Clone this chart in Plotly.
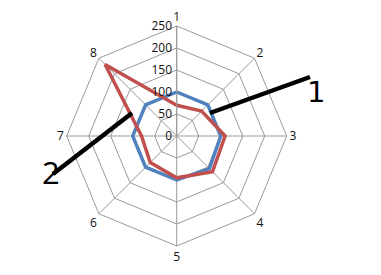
import plotly.graph_objects as go

categories = ["1", "2", "3", "4", "5", "6", "7", "8"]
series_blue = [100, 100, 100, 105, 100, 100, 100, 100]
series_red = [70, 80, 110, 115, 95, 85, 80, 230]
radial_ticks = [0, 50, 100, 150, 200, 250]

W, H = 381, 275
cx, cy, R = 176.7, 136.0, 110.0

def px(x):
    return x / W

def py(y):
    return 1 - y / H

fig = go.Figure()
for vals, col in [(series_blue, "#4F81BD"), (series_red, "#C0504D")]:
    fig.add_trace(go.Scatterpolar(
        r=vals + [vals[0]], theta=categories + [categories[0]],
        mode="lines", line=dict(color=col, width=3.5), showlegend=False,
    ))

fig.update_layout(
    width=W, height=H,
    margin=dict(l=0, r=0, t=0, b=0),
    paper_bgcolor="white", plot_bgcolor="white",
    font=dict(family="Open Sans, Liberation Sans, sans-serif", size=12, color="#111"),
    polar=dict(
        domain=dict(x=[px(cx - R), px(cx + R)], y=[py(cy + R), py(cy - R)]),
        bgcolor="white",
        gridshape="linear",
        angularaxis=dict(
            rotation=90, direction="clockwise",
            categoryorder="array", categoryarray=categories,
            showline=True, linecolor="#9a9a9a", linewidth=1,
            gridcolor="#9a9a9a", gridwidth=1,
            ticks="", tickfont=dict(size=12),
        ),
        radialaxis=dict(
            range=[0, 250], tickvals=radial_ticks,
            angle=90, tickangle=90, side="counterclockwise",
            showline=True, linecolor="#9a9a9a", gridcolor="#9a9a9a",
            ticks="", tickfont=dict(size=12),
        ),
    ),
    shapes=[
        dict(type="line", xref="paper", yref="paper",
             x0=px(210), y0=py(113), x1=px(310), y1=py(77),
             line=dict(color="black", width=4.5)),
        dict(type="line", xref="paper", yref="paper",
             x0=px(132), y0=py(113), x1=px(53), y1=py(174),
             line=dict(color="black", width=4.5)),
    ],
    annotations=[
        dict(text="1", xref="paper", yref="paper", x=px(327), y=py(73),
             showarrow=False, font=dict(family="DejaVu Sans", size=29, color="black")),
        dict(text="2", xref="paper", yref="paper", x=px(40), y=py(195),
             showarrow=False, font=dict(family="Open Sans", size=31, color="black")),
    ],
)

fig.write_html("out.html")
